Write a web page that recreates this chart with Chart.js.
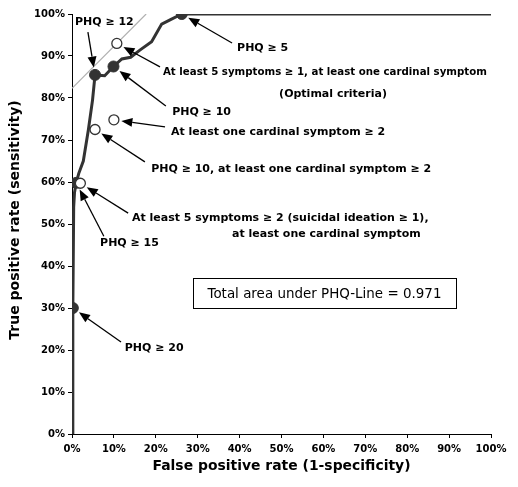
<!DOCTYPE html>
<html><head><meta charset="utf-8">
<script src="https://cdn.jsdelivr.net/npm/chart.js@4/dist/chart.umd.min.js"></script>
<style>html,body{margin:0;padding:0;background:#fff;}#wrap{width:518px;height:487px;}</style>
</head><body><div id="wrap"><canvas id="c" width="518" height="487"></canvas></div>
<script>
// ROC curve of PHQ score (false positive rate %, true positive rate %)
const curveX = [0, 0.2, 0.4, 0.6, 1.0, 1.6, 2.7, 3.9, 4.9, 5.5, 7.8, 9.9, 11.9, 14.0, 16.2, 19.0, 21.4, 23.4, 26.2, 100];
const curveY = [0, 30, 54, 57.5, 59.8, 62, 65, 72.4, 79.5, 85.5, 85.3, 87.5, 89.3, 89.7, 91.4, 93.4, 97.6, 98.6, 100, 100];
// PHQ cut-off points (filled): PHQ>=20, >=15, >=12, >=10, >=5
const cutoffX = [0.2, 1.0, 5.5, 9.9, 26.2];
const cutoffY = [30, 59.8, 85.5, 87.5, 100];
// Algorithm criteria (open): 5 sym>=2, PHQ>=10+cardinal>=2, cardinal>=2, optimal
const criteriaX = [2.0, 5.5, 10.0, 10.7];
const criteriaY = [59.7, 72.5, 74.8, 93.0];
// iso-performance tangent line
const tangentX = [0, 17.7];
const tangentY = [82.3, 100];
const tickValues = [0, 10, 20, 30, 40, 50, 60, 70, 80, 90, 100];
const labelTexts = [
  ['PHQ ≥ 12'],
  ['PHQ ≥ 5'],
  ['At least 5 symptoms ≥ 1, at least one cardinal symptom', '(Optimal criteria)'],
  ['PHQ ≥ 10'],
  ['At least one cardinal symptom ≥ 2'],
  ['PHQ ≥ 10, at least one cardinal symptom ≥ 2'],
  ['At least 5 symptoms ≥ 2 (suicidal ideation ≥ 1),', 'at least one cardinal symptom'],
  ['PHQ ≥ 15'],
  ['PHQ ≥ 20']
];
const areaLabel = 'Total area under PHQ-Line = 0.971';
const xTitle = 'False positive rate (1-specificity)';
const yTitle = 'True positive rate (sensitivity)';

// layout of annotations (data units; optional max width in px)
const annLayout = [
  {text: [[0.7, 98.1, 'left']], tail: [3.8, 95.7], set: 'cut', i: 2},
  {text: [[39.4, 91.9, 'left']], tail: [38.2, 93.1], set: 'cut', i: 4},
  {text: [[21.7, 86.2, 'left', 324], [62.3, 80.95, 'center']], tail: [21.0, 87.4], set: 'crit', i: 3},
  {text: [[23.9, 76.7, 'left']], tail: [22.4, 78.1], set: 'cut', i: 3},
  {text: [[23.6, 71.9, 'left']], tail: [22.2, 73.1], set: 'crit', i: 2},
  {text: [[18.9, 63.1, 'left']], tail: [17.4, 64.8], set: 'crit', i: 1},
  {text: [[14.3, 51.4, 'left']], tail: [13.4, 52.6], set: 'crit', i: 0},
  {text: [[6.7, 45.5, 'left']], tail: [7.6, 47.1], set: 'cut', i: 1},
  {text: [[12.6, 20.5, 'left']], tail: [11.7, 21.9], set: 'cut', i: 0}
];
annLayout[6].text.push([38.2, 47.6, 'left']);
const boxLayout = {x0: 28.9, y0: 37.1, x1: 91.6, y1: 30.0};
const INK = '#333333';
const FONT = "'DejaVu Sans', Verdana, sans-serif";

const pts = (xs, ys) => xs.map((x, k) => ({x: x, y: ys[k]}));

const annotPlugin = {
  id: 'annot',
  afterDatasetsDraw(chart) {
    const ctx = chart.ctx, sx = chart.scales.x, sy = chart.scales.y;
    const X = v => sx.getPixelForValue(v), Y = v => sy.getPixelForValue(v);
    ctx.save();
    annLayout.forEach((a, k) => {
      const tx = a.set === 'cut' ? cutoffX[a.i] : criteriaX[a.i];
      const ty = a.set === 'cut' ? cutoffY[a.i] : criteriaY[a.i];
      const px = X(tx), py = Y(ty);
      const qx = X(a.tail[0]), qy = Y(a.tail[1]);
      const dx = px - qx, dy = py - qy, d = Math.hypot(dx, dy);
      const ux = dx / d, uy = dy / d;
      const gap = 7.5;
      const hx = px - ux * gap, hy = py - uy * gap;
      const L = 11, W = 4.5;
      const bx = hx - ux * L, by = hy - uy * L;
      ctx.strokeStyle = '#000'; ctx.lineWidth = 1.3;
      ctx.beginPath(); ctx.moveTo(qx, qy); ctx.lineTo(bx, by); ctx.stroke();
      ctx.fillStyle = '#000';
      ctx.beginPath();
      ctx.moveTo(hx, hy);
      ctx.lineTo(bx - uy * W, by + ux * W);
      ctx.lineTo(bx + uy * W, by - ux * W);
      ctx.closePath(); ctx.fill();
      ctx.font = 'bold 11px ' + FONT;
      ctx.textBaseline = 'middle';
      a.text.forEach((t, j) => {
        const s = labelTexts[k][j];
        let w = ctx.measureText(s).width;
        if (t[3] && t[3] < w) w = t[3];
        let x = X(t[0]);
        if (t[2] === 'center') x -= w / 2;
        ctx.textAlign = 'left';
        ctx.fillText(s, x, Y(t[1]), w);
      });
    });
    const bx0 = X(boxLayout.x0), by0 = Y(boxLayout.y0), bx1 = X(boxLayout.x1), by1 = Y(boxLayout.y1);
    ctx.fillStyle = '#fff';
    ctx.fillRect(bx0, by0, bx1 - bx0, by1 - by0);
    ctx.strokeStyle = '#000'; ctx.lineWidth = 1;
    ctx.strokeRect(Math.round(bx0) + 0.5, Math.round(by0) + 0.5, Math.round(bx1 - bx0), Math.round(by1 - by0));
    ctx.fillStyle = '#000';
    ctx.font = '13.5px ' + FONT;
    ctx.textAlign = 'center'; ctx.textBaseline = 'middle';
    ctx.fillText(areaLabel, (bx0 + bx1) / 2, (by0 + by1) / 2 + 1, 234);
    ctx.font = 'bold 14px ' + FONT;
    ctx.fillText(xTitle, (chart.chartArea.left + chart.chartArea.right) / 2, 466, 258);
    ctx.save();
    ctx.translate(15, 220);
    ctx.rotate(-Math.PI / 2);
    ctx.fillText(yTitle, 0, 0, 250);
    ctx.restore();
    ctx.restore();
  }
};

const tickFont = {family: FONT, size: 10, weight: 'bold'};
new Chart(document.getElementById('c'), {
  type: 'scatter',
  data: {
    datasets: [
      {data: pts(tangentX, tangentY), showLine: true, borderColor: '#b0b0b0', borderWidth: 1.2, pointRadius: 0, order: 3},
      {data: pts(curveX, curveY), showLine: true, borderColor: INK, borderWidth: 3, pointRadius: 0, tension: 0, order: 2},
      {data: pts(cutoffX, cutoffY), showLine: false, pointRadius: 5.5, pointBackgroundColor: INK, pointBorderColor: INK, pointBorderWidth: 1, order: 1},
      {data: pts(criteriaX, criteriaY), showLine: false, pointRadius: 5, pointBackgroundColor: '#fff', pointBorderColor: INK, pointBorderWidth: 1.3, order: 0}
    ]
  },
  options: {
    responsive: false,
    devicePixelRatio: 1,
    animation: false,
    events: [],
    layout: {padding: {top: 14, right: 27, left: 0, bottom: 0}},
    plugins: {legend: {display: false}, tooltip: {enabled: false}},
    scales: {
      x: {
        type: 'linear', min: 0, max: 100,
        afterBuildTicks: s => { s.ticks = tickValues.map(v => ({value: v})); },
        afterFit: s => { s.height = 53; },
        ticks: {callback: v => v + '%', font: tickFont, color: '#000', padding: 5, maxRotation: 0, autoSkip: false},
        grid: {drawOnChartArea: false, drawTicks: true, tickLength: 4, color: '#000'},
        border: {color: '#000', width: 1}
      },
      y: {
        type: 'linear', min: 0, max: 100,
        afterBuildTicks: s => { s.ticks = tickValues.map(v => ({value: v})); },
        afterFit: s => { s.width = 72; },
        ticks: {callback: v => v + '%', font: tickFont, color: '#000', padding: 3, autoSkip: false},
        grid: {drawOnChartArea: false, drawTicks: true, tickLength: 4, color: '#000'},
        border: {color: '#000', width: 1}
      }
    }
  },
  plugins: [annotPlugin]
});
</script></body></html>
